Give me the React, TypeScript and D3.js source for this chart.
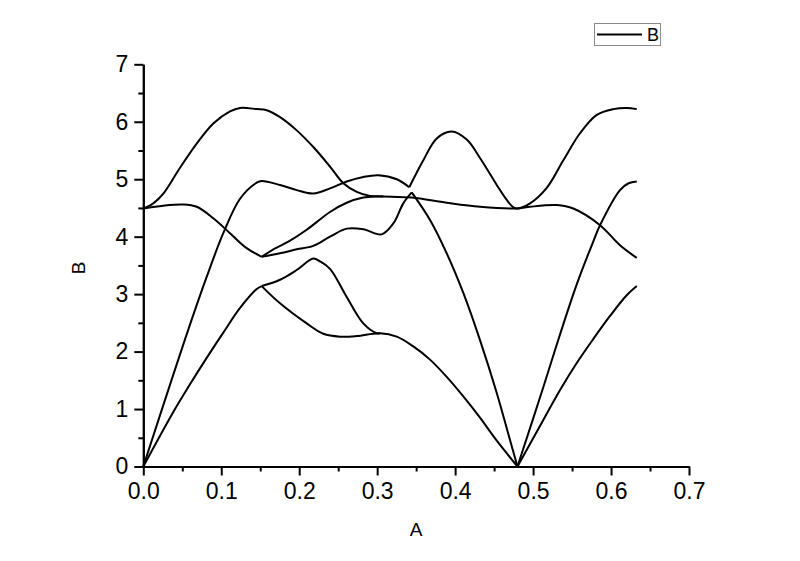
import React, { useEffect, useRef } from "react";
import * as d3 from "d3";

// axis ticks
const xTicks = [0, 0.1, 0.2, 0.3, 0.4, 0.5, 0.6, 0.7];
const xMinorTicks = [0.05, 0.15, 0.25, 0.35, 0.45, 0.55, 0.65];
const yTicks = [0, 1, 2, 3, 4, 5, 6, 7];
const yMinorTicks = [0.5, 1.5, 2.5, 3.5, 4.5, 5.5, 6.5];
const xTitle = "A";
const yTitle = "B";
const legendLabel = "B";

// curve pieces, [A, B] pairs
const steepLeft = [
  [0, 0], [0.0385, 1.6], [0.0599, 2.47], [0.0813, 3.3], [0.1026, 4.06], [0.1241, 4.66],
  [0.1455, 4.94], [0.1519, 4.97], [0.1754, 4.9], [0.1968, 4.81], [0.2181, 4.75], [0.2395, 4.84],
  [0.2609, 4.96], [0.2822, 5.04], [0.3015, 5.07], [0.3251, 5.0], [0.3412, 4.86],
];
const humpRight = [
  [0.3412, 4.86], [0.3592, 5.33], [0.3764, 5.71], [0.3956, 5.83], [0.4149, 5.69], [0.4319, 5.37],
  [0.4534, 4.9], [0.4662, 4.64], [0.4747, 4.51], [0.48, 4.49], [0.4961, 4.58], [0.5175, 4.85],
  [0.5388, 5.33], [0.5602, 5.8], [0.5817, 6.12], [0.603, 6.22], [0.62, 6.24], [0.633, 6.22],
];
const topBranch = [
  [0, 4.49], [0.0128, 4.58], [0.0257, 4.75], [0.0471, 5.2], [0.0685, 5.62], [0.0898, 5.97],
  [0.1112, 6.18], [0.1241, 6.24], [0.1455, 6.22], [0.1583, 6.2], [0.1754, 6.08], [0.1968, 5.85],
  [0.2181, 5.56], [0.2395, 5.22], [0.2566, 4.93], [0.2738, 4.78], [0.2908, 4.71], [0.3079, 4.7],
  [0.3443, 4.68], [0.3892, 4.59], [0.4319, 4.52], [0.48, 4.49], [0.4961, 4.52], [0.5303, 4.55],
  [0.5516, 4.49], [0.5859, 4.2], [0.6115, 3.85], [0.633, 3.63],
];
const dipLeft = [
  [0, 4.49], [0.0257, 4.54], [0.0513, 4.56], [0.0685, 4.52], [0.0898, 4.32], [0.1112, 4.06],
  [0.1326, 3.8], [0.1519, 3.65],
];
const riseMid = [
  [0.1519, 3.65], [0.1668, 3.78], [0.1882, 3.93], [0.2096, 4.12], [0.2395, 4.43], [0.2609, 4.59],
  [0.2822, 4.68], [0.2994, 4.7], [0.3079, 4.7],
];
const wavyMid = [
  [0.1519, 3.65], [0.1754, 3.71], [0.1968, 3.78], [0.2181, 3.84], [0.2395, 4.0], [0.2609, 4.14],
  [0.2822, 4.13], [0.3058, 4.04], [0.3207, 4.23], [0.3335, 4.58], [0.3443, 4.77],
];
const fallMid = [
  [0.3443, 4.77], [0.3678, 4.29], [0.3892, 3.71], [0.4105, 3.02], [0.4319, 2.2], [0.4534, 1.28],
  [0.4704, 0.46], [0.48, 0],
];
const slowLeft = [
  [0, 0], [0.0385, 0.95], [0.0599, 1.43], [0.0813, 1.89], [0.1026, 2.33], [0.1241, 2.76],
  [0.1455, 3.09], [0.1519, 3.14],
];
const bumpLow = [
  [0.1519, 3.14], [0.1754, 3.25], [0.1968, 3.42], [0.2181, 3.62], [0.2266, 3.57], [0.2395, 3.44],
  [0.2609, 2.95], [0.2822, 2.49], [0.2994, 2.32], [0.3037, 2.32],
];
const lowBranch = [
  [0.1519, 3.14], [0.1754, 2.84], [0.2096, 2.49], [0.2309, 2.31], [0.2523, 2.26], [0.2738, 2.27],
  [0.3037, 2.32], [0.3251, 2.26], [0.3464, 2.09], [0.3678, 1.86], [0.3892, 1.56], [0.4105, 1.22],
  [0.4319, 0.85], [0.4534, 0.45], [0.48, 0],
];
const steepRight = [
  [0.48, 0], [0.5131, 1.38], [0.5346, 2.3], [0.556, 3.17], [0.5773, 3.92], [0.5859, 4.2],
  [0.6115, 4.81], [0.6225, 4.93], [0.633, 4.96],
];
const slowRight = [
  [0.48, 0], [0.5131, 0.81], [0.5346, 1.33], [0.556, 1.8], [0.5773, 2.22], [0.5987, 2.62],
  [0.6201, 2.98], [0.633, 3.14],
];

const pieces = [
  steepLeft, humpRight, topBranch, dipLeft, riseMid, wavyMid,
  fallMid, slowLeft, bumpLow, lowBranch, steepRight, slowRight,
];

const width = 800, height = 561;
const font = "'Liberation Sans', Arial, sans-serif";

const App = () => {
  const ref = useRef<SVGSVGElement>(null);

  useEffect(() => {
    const svg = d3.select(ref.current);
    svg.selectAll("*").remove();

    const xScale = d3.scaleLinear().domain([0, 0.7]).range([143.3, 689]);
    const yScale = d3.scaleLinear().domain([0, 7]).range([466.5, 64.3]);

    svg.append("rect").attr("width", width).attr("height", height).attr("fill", "#fff");

    // minor ticks first, then major axis with labels
    svg.append("g")
      .attr("transform", "translate(0," + yScale(0) + ")")
      .call(d3.axisBottom(xScale).tickValues(xMinorTicks).tickSize(5).tickSizeOuter(0).tickFormat(() => ""));
    svg.append("g")
      .attr("transform", "translate(" + xScale(0) + ",0)")
      .call(d3.axisLeft(yScale).tickValues(yMinorTicks).tickSize(5).tickSizeOuter(0).tickFormat(() => ""));

    const xAxis = svg.append("g")
      .attr("transform", "translate(0," + yScale(0) + ")")
      .call(d3.axisBottom(xScale).tickValues(xTicks).tickSize(9).tickSizeOuter(0).tickPadding(7)
        .tickFormat((d) => d3.format(".1f")(d as number)));
    const yAxis = svg.append("g")
      .attr("transform", "translate(" + xScale(0) + ",0)")
      .call(d3.axisLeft(yScale).tickValues(yTicks).tickSize(9).tickSizeOuter(0).tickPadding(6)
        .tickFormat((d) => String(d)));

    svg.selectAll(".domain").attr("stroke", "#000").attr("stroke-width", 2);
    svg.selectAll(".tick line").attr("stroke", "#000").attr("stroke-width", 2);
    [xAxis, yAxis].forEach((g) =>
      g.selectAll("text").attr("font-family", font).attr("font-size", 23).attr("fill", "#000"));

    // curves
    const line = d3.line<number[]>()
      .x((d) => xScale(d[0]))
      .y((d) => yScale(d[1]))
      .curve(d3.curveCatmullRom.alpha(0.5));

    svg.append("g")
      .selectAll("path")
      .data(pieces)
      .enter()
      .append("path")
      .attr("d", (d) => line(d))
      .attr("fill", "none")
      .attr("stroke", "#000")
      .attr("stroke-width", 2)
      .attr("stroke-linejoin", "round");

    // axis titles
    svg.append("text")
      .attr("x", 416)
      .attr("y", 536)
      .attr("text-anchor", "middle")
      .attr("font-family", font)
      .attr("font-size", 19)
      .text(xTitle);
    svg.append("text")
      .attr("transform", "translate(85,268) rotate(-90)")
      .attr("text-anchor", "middle")
      .attr("font-family", font)
      .attr("font-size", 19)
      .text(yTitle);

    // legend
    const legend = svg.append("g");
    legend.append("rect")
      .attr("x", 594.5).attr("y", 23.5).attr("width", 66).attr("height", 22)
      .attr("fill", "#fff").attr("stroke", "#8a8a8a").attr("stroke-width", 1);
    legend.append("line")
      .attr("x1", 597).attr("x2", 642).attr("y1", 34.5).attr("y2", 34.5)
      .attr("stroke", "#000").attr("stroke-width", 2);
    legend.append("text")
      .attr("x", 647).attr("y", 41)
      .attr("font-family", font)
      .attr("font-size", 18)
      .text(legendLabel);
  }, []);

  return (
    <svg
      ref={ref}
      width={width}
      height={height}
      style={{ position: "absolute", left: 0, top: 0, display: "block" }}
    />
  );
};

export default App;
